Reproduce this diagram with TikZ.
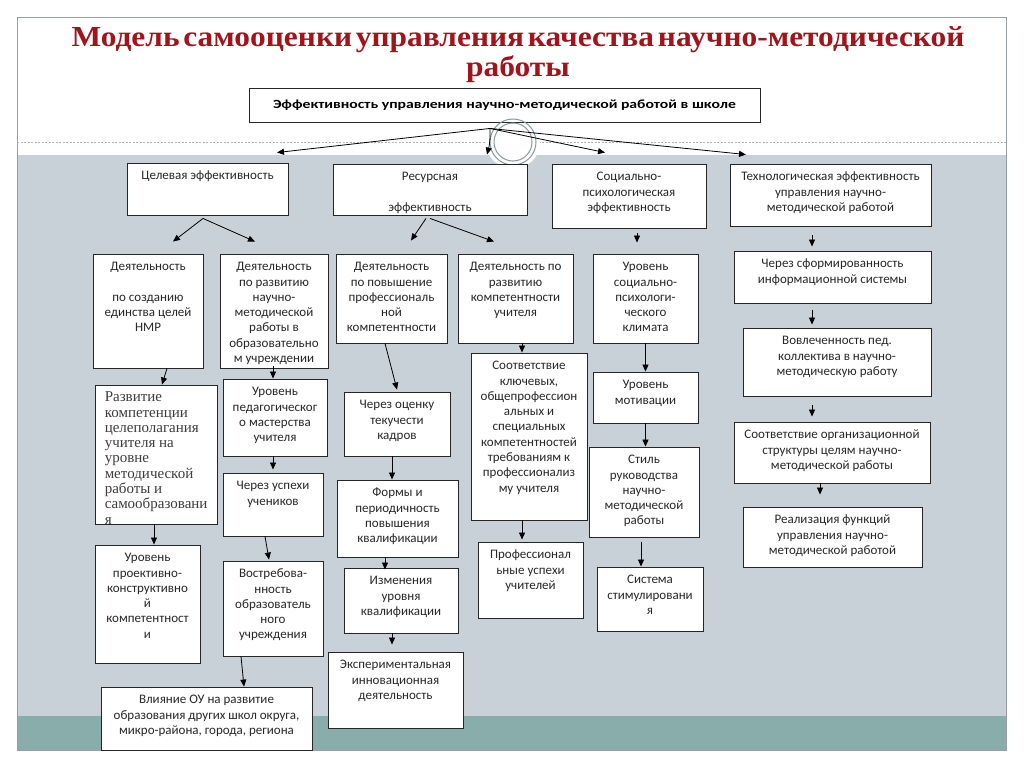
\documentclass[tikz,border=0pt]{standalone}
\usepackage{fontspec}
\usepackage{graphicx}
\setmainfont{Carlito}
\newfontfamily\serifcyr{Liberation Serif}
\usetikzlibrary{arrows.meta,calc}
\definecolor{slidegrey}{RGB}{199,209,215}
\definecolor{slideteal}{RGB}{137,173,171}
\definecolor{titlered}{RGB}{160,20,28}
\definecolor{ink}{RGB}{40,40,40}
\definecolor{framegrey}{RGB}{150,160,165}
\definecolor{ringgrey}{RGB}{135,155,155}
\newlength\titlewd
\newlength\topwd
\newcommand\titlef{\serifcyr\bfseries\fontsize{29}{30}\selectfont\spaceskip=0.12em plus 0.02em\relax}
\newcommand\topf{\bfseries\fontsize{12.5}{14}\selectfont}
\newcommand\titlelineA{Модель самооценки управления качества научно-методической}
\newcommand\toptext{Эффективность управления научно-методической работой в школе}
\AtBeginDocument{%
  \settowidth{\titlewd}{\titlef\titlelineA}%
  \settowidth{\topwd}{\topf\toptext}%
  \pgfmathsetmacro\tratio{893/\titlewd}%
  \pgfmathsetmacro\tbratio{463/\topwd}%
  \global\let\tratio\tratio
  \global\let\tbratio\tbratio}
\tikzset{
  boxs/.style={draw=black!85, fill=white, line width=0.9pt, inner sep=0pt},
  btxt/.style={font=\fontsize{13}{15.3}\selectfont, text=ink, align=center, inner sep=0pt},
  stxt/.style={font=\serifcyr\fontsize{15}{15.3}\selectfont, text=ink!90, align=left, inner sep=0pt},
  arr/.style={draw=black, line width=0.8pt, -{Triangle[length=7pt,width=6pt]}},
}
\newcommand\bx[7][]{%
  \node[boxs,minimum width={(#5-#3)*1pt},minimum height={(#6-#4)*1pt},#1] (#2) at ({(#3+#5)/2},{(#4+#6)/2}) {};
  \node[btxt,anchor=north] (#2t) at ([yshift=-6.3pt]#2.north) {\strut #7};}
\begin{document}
\begin{tikzpicture}[x=1pt,y=-1pt]
\useasboundingbox (0,0) rectangle (1024,768);
\fill[white] (0,0) rectangle (1024,768);
% slide background
\fill[slidegrey] (17,155) rectangle (1006,716);
\fill[slideteal] (17,716) rectangle (1006,750);
\draw[framegrey, line width=0.8pt] (17,17) rectangle (1006,750);
\draw[gray!60, line width=0.6pt, dash pattern=on 2pt off 1.5pt] (17,142) -- (1006,142);
\fill[white] (513,142) circle (27);
% title
\node[anchor=base, text=titlered, font=\titlef, inner sep=0pt] (title1) at (518,47) {\scalebox{\tratio}[1]{\titlelineA}};
\node[anchor=base, text=titlered, font=\titlef, inner sep=0pt] (title2) at (518,76) {\scalebox{\tratio}[1]{работы}};
% top box
\node[boxs, minimum width=511pt, minimum height=34pt] (T) at (504.5,105) {};
\node[font=\topf, text=black, inner sep=0pt] (Tt) at (T.center) {\scalebox{\tbratio}[1]{\toptext}};
% rings
\draw[ringgrey, line width=1pt] (513,142) circle (23);
\draw[ringgrey, line width=1pt] (513,142) circle (19);
% level 1
\bx{c1}{127}{163}{288}{215}{Целевая эффективность}
\bx{c2}{333}{164}{527}{215}{Ресурсная\\ \\эффективность}
\bx{c3}{552}{164}{706}{228}{Социально-\\психологическая\\эффективность}
\bx{c4}{730}{164}{931}{226}{Технологическая эффективность\\управления научно-\\методической работой}
% column 1-2
\bx{d1}{93}{254}{203}{368}{Деятельность\\ \\по созданию\\единства целей\\НМР}
\bx{d2}{220}{254}{328}{368}{Деятельность\\по развитию\\научно-\\методической\\работы в\\образовательно\\м учреждении}
\node[boxs, minimum width=122pt, minimum height=139pt] (d3) at (156,454.5) {};
\begin{scope}
\clip ([shift={(0.5pt,0.5pt)}]d3.south west) rectangle ([shift={(-0.5pt,-0.5pt)}]d3.north east);
\node[stxt, anchor=north west] (d3t) at ([xshift=10pt,yshift=-6.3pt]d3.north west) {\strut Развитие\\компетенции\\целеполагания\\учителя на\\уровне\\методической\\работы и\\самообразовани\\я};
\end{scope}
\bx{d4}{223}{379}{327}{456}{Уровень\\педагогическог\\о мастерства\\учителя}
\bx{d5}{95}{545}{200}{663}{Уровень\\проективно-\\конструктивно\\й\\компетентност\\и}
\bx{d6}{223}{473}{323}{536}{Через успехи\\учеников}
\bx{d7}{223}{561}{323}{656}{Востребова-\\нность\\образователь\\ного\\учреждения}
\bx{d8}{101}{687}{312}{750}{Влияние ОУ на развитие\\образования других школ округа,\\микро-района, города, региона}
% column 3-4
\bx{r1}{336}{254}{447}{343}{Деятельность\\по повышение\\профессиональ\\ной\\компетентности}
\bx{r2}{458}{254}{573}{343}{Деятельность по\\развитию\\компетентности\\учителя}
\bx{r3}{344}{392}{450}{456}{Через оценку\\текучести\\кадров}
\bx{r4}{337}{480}{458}{557}{Формы и\\периодичность\\повышения\\квалификации}
\bx{r5}{344}{568}{458}{633}{Изменения\\уровня\\квалификации}
\bx{r6}{328}{652}{463}{728}{Экспериментальная\\инновационная\\деятельность}
\bx{r7}{471}{353}{587}{520}{Соответствие\\ключевых,\\общепрофессион\\альных и\\специальных\\компетентностей\\требованиям к\\профессионализ\\му учителя}
\bx{r8}{478}{542}{583}{618}{Профессионал\\ьные успехи\\учителей}
% column 5
\bx{s1}{593}{254}{698}{343}{Уровень\\социально-\\психологи-\\ческого\\климата}
\bx{s2}{593}{372}{698}{423}{Уровень\\мотивации}
\bx{s3}{589}{447}{699}{537}{Стиль\\руководства\\научно-\\методической\\работы}
\bx{s4}{597}{567}{703}{631}{Система\\стимулировани\\я}
% column 6
\bx{t1}{734}{251}{931}{303}{Через сформированность\\информационной системы}
\bx{t2}{743}{328}{931}{396}{Вовлеченность пед.\\коллектива в научно-\\методическую работу}
\bx{t3}{734}{422}{930}{483}{Соответствие организационной\\структуры целям научно-\\методической работы}
\bx{t4}{743}{507}{922}{567}{Реализация функций\\управления научно-\\методической работой}
% connectors from top box
\coordinate (O) at ([xshift=-14.5pt,yshift=-6pt]T.south);
\draw[arr] (O) -- ([xshift=69.5pt,yshift=10pt]c1.north);
\draw[arr] (O) to[bend left=8] ([xshift=57pt,yshift=9pt]c2.north);
\draw[arr] (O) -- ([xshift=-24pt,yshift=11pt]c3.north);
\draw[arr] (O) -- ([xshift=-84.5pt,yshift=9pt]c4.north);
% level 1 to level 2
\draw[arr] ([xshift=-4.5pt,yshift=-3pt]c1.south) -- ([xshift=25pt,yshift=12pt]d1.north);
\draw[arr] ([xshift=-4.5pt,yshift=-3pt]c1.south) -- ([xshift=-19pt,yshift=12pt]d2.north);
\draw[arr] ([xshift=-4pt,yshift=-3pt]c2.south) -- ([xshift=19.5pt,yshift=13pt]r1.north);
\draw[arr] ([yshift=-3pt]c2.south) -- ([xshift=-21.5pt,yshift=12pt]r2.north);
\draw[arr] ([xshift=8pt,yshift=-5pt]c3.south) -- ([xshift=-8.5pt,yshift=11pt]s1.north);
\draw[arr] ([xshift=-18.5pt,yshift=-9pt]c4.south) -- ([xshift=-20.5pt,yshift=4pt]t1.north);
% column connectors
\draw[arr] ([xshift=19pt]d1.south) -- ([xshift=6pt]d3.north);
\draw[arr] ([xshift=-1pt,yshift=2pt]d2.south) -- ([xshift=-2pt]d4.north);
\draw[arr] ([xshift=-2pt]d4.south) -- ([yshift=3pt]d6.north);
\draw[arr] ([xshift=-2pt]d3.south) -- ([xshift=6.5pt]d5.north);
\draw[arr] ([xshift=-8pt]d6.south) -- ([xshift=-4pt,yshift=1pt]d7.north);
\draw[arr] ([xshift=-32pt]d7.south) -- ([xshift=37.5pt]d8.north);
\draw[arr] ([xshift=-6.5pt]r1.south) -- ([yshift=2pt]r3.north);
\draw[arr] ([xshift=-5pt]r3.south) -- ([xshift=-5.5pt]r4.north);
\draw[arr] ([xshift=-12.5pt]r4.south) -- ([xshift=-16pt,yshift=-2pt]r5.north);
\draw[arr] ([xshift=-9pt]r5.south) -- ([xshift=-3.5pt,yshift=7pt]r6.north);
\draw[arr] ([xshift=6.5pt]r2.south) -- ([xshift=-7pt]r7.north);
\draw[arr] ([xshift=-7pt]r7.south) -- ([xshift=-8.5pt,yshift=2pt]r8.north);
\draw[arr] (s1.south) -- (s2.north);
\draw[arr] (s2.south) -- (s2.south |- s3.north);
\draw[arr] ([xshift=-3pt,yshift=-5pt]s3.south) -- ([xshift=-9pt]s4.north);
\draw[arr] ([xshift=-20.5pt,yshift=-7pt]t1.south) -- ([xshift=-25pt,yshift=3pt]t2.north);
\draw[arr] ([xshift=-25pt,yshift=-9pt]t2.south) -- ([xshift=-20pt,yshift=5pt]t3.north);
\draw[arr] ([xshift=-12pt]t3.south) -- ([xshift=-12.5pt,yshift=12pt]t4.north);
\end{tikzpicture}
\end{document}
